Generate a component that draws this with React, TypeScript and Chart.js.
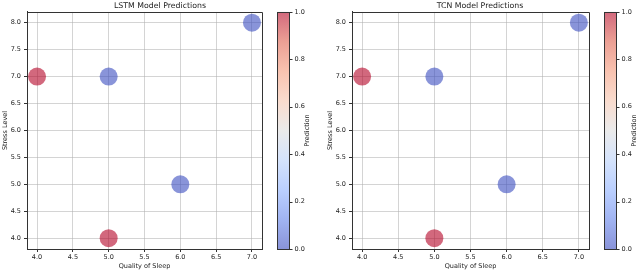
import React, { useEffect, useRef } from 'react';
import { Chart, registerables } from 'chart.js';

Chart.register(...registerables);

// ---- data ----
const sleepQuality = [4, 5, 7, 6, 5];
const stressLevel = [7, 7, 8, 5, 4];
const lstmPredictions = [1, 0, 0, 0, 1];
const tcnPredictions = [1, 0, 0, 0, 1];
const xTickValues = [4.0, 4.5, 5.0, 5.5, 6.0, 6.5, 7.0];
const yTickValues = [4.0, 4.5, 5.0, 5.5, 6.0, 6.5, 7.0, 7.5, 8.0];
const colorbarTicks = [0.0, 0.2, 0.4, 0.6, 0.8, 1.0];
const xRange = [3.86, 7.14];
const yRange = [3.8, 8.2];

// coolwarm colormap samples
const coolwarmStops: [number, number[]][] = [
  [0.0, [59, 76, 192]],
  [0.125, [98, 130, 234]],
  [0.25, [141, 176, 254]],
  [0.375, [184, 208, 249]],
  [0.5, [221, 221, 221]],
  [0.625, [245, 196, 173]],
  [0.75, [244, 154, 123]],
  [0.875, [222, 96, 77]],
  [1.0, [180, 4, 38]],
];
const ALPHA = 0.6;

function coolwarm(v: number, alpha = 1): string {
  const t = Math.max(0, Math.min(1, v));
  for (let i = 1; i < coolwarmStops.length; i++) {
    const [p1, c1] = coolwarmStops[i];
    const [p0, c0] = coolwarmStops[i - 1];
    if (t <= p1) {
      const f = (t - p0) / (p1 - p0);
      const c = c0.map((x, k) => Math.round(x + (c1[k] - x) * f));
      return `rgba(${c[0]},${c[1]},${c[2]},${alpha})`;
    }
  }
  const c = coolwarmStops[coolwarmStops.length - 1][1];
  return `rgba(${c[0]},${c[1]},${c[2]},${alpha})`;
}

const FONT = 'DejaVu Sans';
const TEXT = '#222';
const SPINE = '#333';
const GRID = 'rgba(176,176,176,0.55)';

const framePlugin = {
  id: 'frameAndColorbar',
  afterDraw(chart: any) {
    const ctx = chart.ctx as CanvasRenderingContext2D;
    const ca = chart.chartArea;
    ctx.save();
    // top/right spines
    ctx.strokeStyle = SPINE;
    ctx.lineWidth = 1;
    ctx.beginPath();
    ctx.moveTo(Math.round(ca.left) + 0.5, Math.round(ca.top) + 0.5);
    ctx.lineTo(Math.round(ca.right) + 0.5, Math.round(ca.top) + 0.5);
    ctx.lineTo(Math.round(ca.right) + 0.5, Math.round(ca.bottom) + 0.5);
    ctx.stroke();

    // colorbar
    const cb = chart.scales.cb;
    const x0 = Math.round(cb.left + 15);
    const w = 12;
    const top = cb.getPixelForValue(1);
    const bottom = cb.getPixelForValue(0);
    const grad = ctx.createLinearGradient(0, bottom, 0, top);
    coolwarmStops.forEach(([p]) => grad.addColorStop(p, coolwarm(p, ALPHA)));
    ctx.fillStyle = grad;
    ctx.fillRect(x0, top, w, bottom - top);
    ctx.strokeStyle = SPINE;
    ctx.strokeRect(x0 + 0.5, Math.round(top) + 0.5, w, Math.round(bottom - top));
    // ticks and labels
    ctx.beginPath();
    colorbarTicks.forEach((v) => {
      const y = Math.round(cb.getPixelForValue(v)) + 0.5;
      ctx.moveTo(x0 + w + 0.5, y);
      ctx.lineTo(x0 + w + 3.5, y);
    });
    ctx.stroke();
    ctx.fillStyle = TEXT;
    ctx.font = `6.5px "${FONT}"`;
    ctx.textAlign = 'left';
    ctx.textBaseline = 'middle';
    colorbarTicks.forEach((v) => {
      ctx.fillText(v.toFixed(1), x0 + w + 5.5, cb.getPixelForValue(v));
    });
    // label
    ctx.textAlign = 'center';
    ctx.translate(x0 + 30, (top + bottom) / 2);
    ctx.rotate(-Math.PI / 2);
    ctx.fillText('Prediction', 0, 0);
    ctx.restore();
  },
};

type PanelProps = {
  title: string;
  preds: number[];
  yAxisWidth: number;
  cbAxisWidth: number;
  yTitlePad: number;
};

function Panel({ title, preds, yAxisWidth, cbAxisWidth, yTitlePad }: PanelProps) {
  const ref = useRef<HTMLCanvasElement>(null);
  useEffect(() => {
    const points = sleepQuality.map((x, i) => ({ x, y: stressLevel[i] }));
    const colors = preds.map((p) => coolwarm(p, ALPHA));
    const tickFont = { family: FONT, size: 6.5 };
    const chart = new Chart(ref.current as HTMLCanvasElement, {
      type: 'scatter',
      data: {
        datasets: [
          {
            data: points,
            pointRadius: 9,
            pointHoverRadius: 9,
            pointBackgroundColor: colors,
            pointBorderWidth: 0,
            pointBorderColor: colors,
          },
        ],
      },
      options: {
        animation: false,
        responsive: false,
        devicePixelRatio: 1,
        events: [],
        layout: { padding: 0 },
        plugins: {
          legend: { display: false },
          tooltip: { enabled: false },
          title: {
            display: true,
            text: title,
            color: TEXT,
            font: { family: FONT, size: 7.8, weight: 'normal', lineHeight: 1.2 },
            padding: { top: 1.3, bottom: 1.3 },
          },
        },
        scales: {
          x: {
            type: 'linear',
            position: 'bottom',
            min: xRange[0],
            max: xRange[1],
            afterBuildTicks: (s: any) => {
              s.ticks = xTickValues.map((v) => ({ value: v }));
            },
            afterFit: (s: any) => {
              s.height = 22;
            },
            ticks: {
              color: TEXT,
              font: tickFont,
              padding: 1,
              maxRotation: 0,
              autoSkip: false,
              callback: (v: any) => Number(v).toFixed(1),
            },
            grid: { color: GRID, lineWidth: 1, tickColor: SPINE, tickLength: 3 },
            border: { display: true, color: SPINE, width: 1 },
            title: {
              display: true,
              text: 'Quality of Sleep',
              color: TEXT,
              font: { family: FONT, size: 6.5, lineHeight: 1.2 },
              padding: { top: 0, bottom: 1 },
            },
          },
          y: {
            type: 'linear',
            position: 'left',
            min: yRange[0],
            max: yRange[1],
            afterBuildTicks: (s: any) => {
              s.ticks = yTickValues.map((v) => ({ value: v }));
            },
            afterFit: (s: any) => {
              s.width = yAxisWidth;
            },
            ticks: {
              color: TEXT,
              font: tickFont,
              padding: 3,
              autoSkip: false,
              callback: (v: any) => Number(v).toFixed(1),
            },
            grid: { color: GRID, lineWidth: 1, tickColor: SPINE, tickLength: 3 },
            border: { display: true, color: SPINE, width: 1 },
            title: {
              display: true,
              text: 'Stress Level',
              color: TEXT,
              font: { family: FONT, size: 6.5, lineHeight: 1.2 },
              padding: { top: yTitlePad, bottom: 0 },
            },
          },
          cb: {
            type: 'linear',
            position: 'right',
            min: 0,
            max: 1,
            afterFit: (s: any) => {
              s.width = cbAxisWidth;
            },
            ticks: { display: false },
            grid: { display: false },
            border: { display: false },
          },
        },
      } as any,
      plugins: [framePlugin],
    });
    return () => chart.destroy();
  }, []);
  return (
    <canvas
      ref={ref}
      width={320}
      height={271}
      style={{ display: 'block', width: 320, height: 271 }}
    />
  );
}

export default function App() {
  useEffect(() => {
    document.body.style.margin = '0';
    document.body.style.background = '#fff';
  }, []);
  return (
    <div style={{ display: 'flex', width: 640, height: 271, background: '#fff' }}>
      <Panel
        title="LSTM Model Predictions"
        preds={lstmPredictions}
        yAxisWidth={27}
        cbAxisWidth={58}
        yTitlePad={1}
      />
      <Panel
        title="TCN Model Predictions"
        preds={tcnPredictions}
        yAxisWidth={32}
        cbAxisWidth={51}
        yTitlePad={6}
      />
    </div>
  );
}
